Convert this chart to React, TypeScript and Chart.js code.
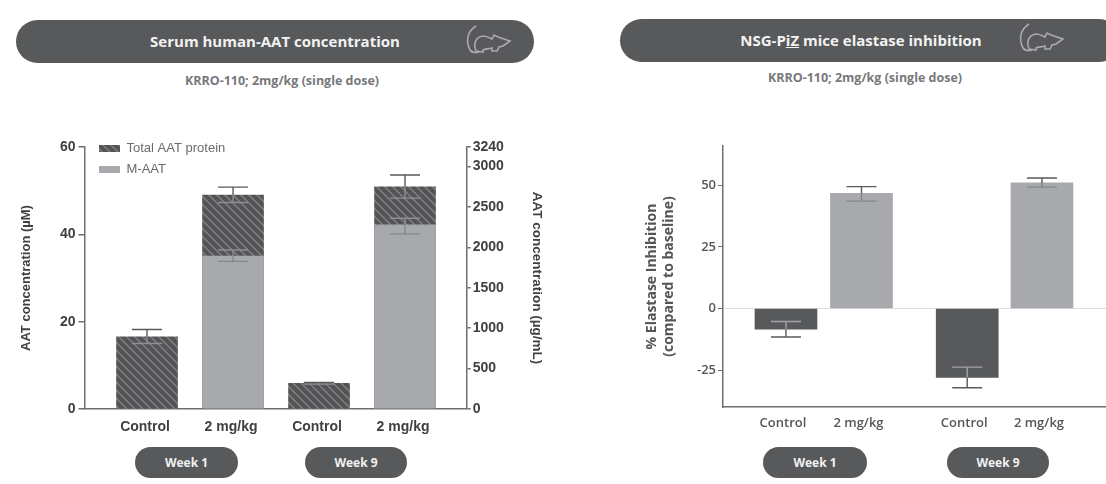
import React, { useEffect, useRef } from "react";
import { Chart, registerables } from "chart.js";

Chart.register(...registerables);

// ---- data ----
const doseLabels = ["Control", "2 mg/kg", "Control", "2 mg/kg"];
const totalAat = [16.55, 49, 5.9, 50.9];
const totalHigh = [18.2, 50.8, 6.1, 53.6];
const totalLow = [15, 47.3, 5.7, 48.3];
const mAat = [null, 35, null, 42.2];
const mHigh = [null, 36.4, null, 43.7];
const mLow = [null, 33.8, null, 40.1];
const leftTicks = [0, 20, 40, 60];
const rightTicks = [0, 500, 1000, 1500, 2000, 2500, 3000, 3240];

const elastase = [-8.4, 46.8, -28, 51];
const elastaseHigh = [-5.3, 49.5, -23.8, 53];
const elastaseLow = [-11.6, 43.6, -32.2, 49.3];
const elastaseTicks = [-25, 0, 25, 50];
const weekLabels = ["Week 1", "Week 9"];

// ---- style / layout ----
const DARK = "#58595b";
const LIGHT = "#a7a9ac";
const AXIS = "#6d6e71";
const slotsLeft = [0, 1, 2, 3];
const slotsRight = [0, 1, 2.4, 3.39];

function hatch(): CanvasPattern | string {
  const s = 8;
  const c = document.createElement("canvas");
  c.width = s;
  c.height = s;
  const g = c.getContext("2d");
  if (!g) return DARK;
  g.fillStyle = "#535456";
  g.fillRect(0, 0, s, s);
  g.strokeStyle = "#7b7c7e";
  g.lineWidth = 1.6;
  for (const o of [-s, 0, s]) {
    g.beginPath();
    g.moveTo(o, 0);
    g.lineTo(o + s, s);
    g.stroke();
  }
  return g.createPattern(c, "repeat") as CanvasPattern;
}

function whisker(ctx: CanvasRenderingContext2D, x: number, y0: number, y1: number, color: string, half: number) {
  ctx.strokeStyle = color;
  ctx.lineWidth = 1.4;
  ctx.beginPath();
  ctx.moveTo(x, y0);
  ctx.lineTo(x, y1);
  ctx.moveTo(x - half, y1);
  ctx.lineTo(x + half, y1);
  ctx.stroke();
}

const pts = (vals: (number | null)[], slots: number[]) => vals.map((y, i) => ({ x: slots[i], y }));

const tickFix = (values: number[]) => (axis: any) => {
  axis.ticks = values.map((value) => ({ value }));
};

const Pill = ({ left, top, width, height, size, children }: any) => (
  <div
    style={{
      position: "absolute",
      left,
      top,
      width,
      height,
      lineHeight: height + "px",
      borderRadius: height / 2,
      background: DARK,
      color: "#f2f2f2",
      textAlign: "center",
      fontFamily: "'Open Sans', sans-serif",
      fontWeight: 700,
      fontSize: size,
    }}
  >
    {children}
  </div>
);

const Mouse = ({ left, top }: { left: number; top: number }) => (
  <svg style={{ position: "absolute", left, top }} width={48} height={30} viewBox="0 0 48 30" fill="none" stroke="#a9aaac" strokeWidth={1.6}>
    <path d="M11 1 C3 6 0 15 5 25 C7 28 10 28 14 27" />
    <path d="M11 26 C8 18 11 12 18 11 C22 11 25 13 27 14 L29 10 L33 12 L45 16 L38 21 L34 22 L32 26 L27 26 L27 23 C23 24 20 24 18 25 L18 27 Z" />
  </svg>
);

const Sub = ({ left, top, width, children }: any) => (
  <div
    style={{
      position: "absolute",
      left,
      top,
      width,
      textAlign: "center",
      color: "#77787b",
      fontFamily: "'Open Sans', sans-serif",
      fontWeight: 700,
      fontSize: 12.5,
      lineHeight: "14px",
    }}
  >
    {children}
  </div>
);

export default function App() {
  const leftRef = useRef<HTMLCanvasElement>(null);
  const rightRef = useRef<HTMLCanvasElement>(null);

  useEffect(() => {
    const pattern = hatch();
    const labelFont = { family: "'Liberation Sans', sans-serif", weight: "bold" as const, size: 14 };

    const leftBars = {
      id: "leftBars",
      afterLayout(chart: any) {
        chart.legend.left += 6.5;
        chart.legend.top += 4;
      },
      afterDatasetsDraw(chart: any) {
        const { ctx, scales } = chart;
        ctx.save();
        slotsLeft.forEach((slot, i) => {
          const x = scales.x.getPixelForValue(slot);
          const topY = scales.y.getPixelForValue(totalAat[i]);
          whisker(ctx, x, topY, scales.y.getPixelForValue(totalHigh[i]), DARK, 15);
          whisker(ctx, x, topY, scales.y.getPixelForValue(totalLow[i]), "#8f9093", 15);
          const m = mAat[i];
          if (m !== null) {
            const mY = scales.y.getPixelForValue(m);
            whisker(ctx, x, mY, scales.y.getPixelForValue(mHigh[i] as number), "#8f9093", 15);
            whisker(ctx, x, mY, scales.y.getPixelForValue(mLow[i] as number), "#85868a", 15);
          }
        });
        ctx.restore();
      },
    };

    const left = new Chart(leftRef.current as HTMLCanvasElement, {
      type: "bar",
      data: {
        datasets: [
          {
            label: "Total AAT protein",
            data: pts(totalAat, slotsLeft) as any,
            backgroundColor: pattern as any,
            barThickness: 61,
            grouped: false,
            order: 2,
          },
          {
            label: "M-AAT",
            data: pts(mAat, slotsLeft) as any,
            backgroundColor: LIGHT,
            barThickness: 61,
            grouped: false,
            order: 1,
          },
        ],
      },
      options: {
        responsive: false,
        animation: false,
        layout: { padding: { left: 19, right: 15, top: 17, bottom: 0 } },
        plugins: {
          tooltip: { enabled: false },
          legend: {
            position: "chartArea" as any,
            align: "start",
            labels: {
              boxWidth: 21,
              boxHeight: 7,
              padding: 8,
              color: "#6a6b6e",
              font: { family: "'Liberation Sans', sans-serif", size: 13 },
              sort: (a: any, b: any) => a.datasetIndex - b.datasetIndex,
            },
          },
        },
        scales: {
          x: {
            type: "linear",
            offset: false,
            min: -0.727,
            max: 3.717,
            afterBuildTicks: tickFix(slotsLeft),
            afterFit: (s: any) => {
              s.height = 31;
            },
            grid: { display: false, drawTicks: false },
            border: { color: AXIS, width: 1.5 },
            ticks: {
              autoSkip: false,
              maxRotation: 0,
              padding: 10,
              labelOffset: -2,
              color: "#3f4042",
              font: labelFont,
              callback: (v: any) => doseLabels[slotsLeft.indexOf(Number(v))] ?? "",
            },
          },
          y: {
            position: "left",
            min: 0,
            max: 60,
            afterBuildTicks: tickFix(leftTicks),
            afterFit: (s: any) => {
              s.width = 65.5;
            },
            grid: { drawOnChartArea: false, tickLength: 6, tickColor: AXIS, lineWidth: 1.5 },
            border: { color: AXIS, width: 1.5 },
            ticks: { color: "#3f4042", font: labelFont, padding: 3, callback: (v: any) => String(v) },
            title: { display: true, text: "AAT concentration (µM)", color: "#3f4042", font: { ...labelFont, size: 13 }, padding: 0 },
          },
          yRight: {
            position: "right",
            min: 0,
            max: 3240,
            afterBuildTicks: tickFix(rightTicks),
            afterFit: (s: any) => {
              s.width = 78.3;
            },
            grid: { drawOnChartArea: false, tickLength: 4, tickColor: AXIS, lineWidth: 1.5 },
            border: { color: AXIS, width: 1.5 },
            ticks: { color: "#3f4042", font: labelFont, padding: 2, callback: (v: any) => String(v) },
            title: { display: true, text: "AAT concentration (µg/mL)", color: "#3f4042", font: { ...labelFont, size: 13.5 }, padding: 0 },
          },
        },
      } as any,
      plugins: [leftBars],
    });

    const rightBars = {
      id: "rightBars",
      afterDatasetsDraw(chart: any) {
        const { ctx, scales } = chart;
        ctx.save();
        slotsRight.forEach((slot, i) => {
          const x = scales.x.getPixelForValue(slot);
          const y0 = scales.y.getPixelForValue(elastase[i]);
          const yHi = scales.y.getPixelForValue(elastaseHigh[i]);
          const yLo = scales.y.getPixelForValue(elastaseLow[i]);
          if (elastase[i] < 0) {
            whisker(ctx, x, y0, yHi, "#a3a4a7", 15);
            whisker(ctx, x, y0, yLo, DARK, 15);
          } else {
            whisker(ctx, x, y0, yHi, DARK, 15);
            whisker(ctx, x, y0, yLo, "#85868a", 15);
          }
        });
        ctx.restore();
      },
    };

    const openFont = { family: "'Open Sans', sans-serif", weight: 600 as any, size: 13 };
    const right = new Chart(rightRef.current as HTMLCanvasElement, {
      type: "bar",
      data: {
        datasets: [
          {
            label: "% Elastase Inhibition",
            data: pts(elastase, slotsRight) as any,
            backgroundColor: elastase.map((v) => (v < 0 ? DARK : LIGHT)),
            barThickness: 62,
          },
        ],
      },
      options: {
        responsive: false,
        animation: false,
        layout: { padding: { left: 44, right: 0, top: 16, bottom: 0 } },
        plugins: { legend: { display: false }, tooltip: { enabled: false } },
        scales: {
          x: {
            type: "linear",
            offset: false,
            min: -0.834,
            max: 4.238,
            afterBuildTicks: tickFix(slotsRight),
            afterFit: (s: any) => {
              s.height = 33;
            },
            grid: { display: false, drawTicks: false },
            border: { color: AXIS, width: 1.5 },
            ticks: {
              autoSkip: false,
              maxRotation: 0,
              padding: 8,
              labelOffset: -3,
              color: "#55565a",
              font: openFont,
              callback: (v: any) => doseLabels[slotsRight.indexOf(Number(v))] ?? "",
            },
          },
          y: {
            min: -40,
            max: 66,
            afterBuildTicks: tickFix(elastaseTicks),
            afterFit: (s: any) => {
              s.width = 79;
            },
            grid: {
              tickLength: 5,
              tickColor: AXIS,
              color: (c: any) => (c.tick && c.tick.value === 0 ? "#dcdddf" : "transparent"),
            },
            border: { color: AXIS, width: 1.5 },
            ticks: { color: "#55565a", font: openFont, padding: 2, callback: (v: any) => String(v) },
            title: {
              display: true,
              text: ["% Elastase Inhibition", "(compared to baseline)"],
              color: "#55565a",
              font: { ...openFont, weight: 700, size: 14 },
              padding: 0,
            },
          },
        },
      } as any,
      plugins: [rightBars],
    });

    return () => {
      left.destroy();
      right.destroy();
    };
  }, []);

  return (
    <div style={{ position: "absolute", left: 0, top: 0, width: 1106, height: 484, overflow: "hidden", background: "#fff", filter: "blur(0.5px)" }}>
      <Pill left={16} top={20} width={518} height={43} size={15}>
        Serum human-AAT concentration
      </Pill>
      <Mouse left={465} top={25} />
      <Sub left={176} top={74} width={212}>KRRO-110; 2mg/kg (single dose)</Sub>

      <Pill left={620} top={19} width={500} height={43} size={15}>
        <span style={{ position: "relative", left: -9 }}>
          NSG-P<u>iZ</u> mice elastase inhibition
        </span>
      </Pill>
      <Mouse left={1018} top={23} />
      <Sub left={759} top={71} width={212}>KRRO-110; 2mg/kg (single dose)</Sub>

      <canvas ref={leftRef} width={560} height={310} style={{ position: "absolute", left: 0, top: 130 }} />
      <canvas ref={rightRef} width={506} height={310} style={{ position: "absolute", left: 600, top: 130 }} />

      <Pill left={135} top={447} width={103} height={31} size={12}>{weekLabels[0]}</Pill>
      <Pill left={305} top={447} width={102} height={31} size={12}>{weekLabels[1]}</Pill>
      <Pill left={763} top={447} width={104} height={31} size={12}>{weekLabels[0]}</Pill>
      <Pill left={947} top={447} width={102} height={31} size={12}>{weekLabels[1]}</Pill>
    </div>
  );
}
